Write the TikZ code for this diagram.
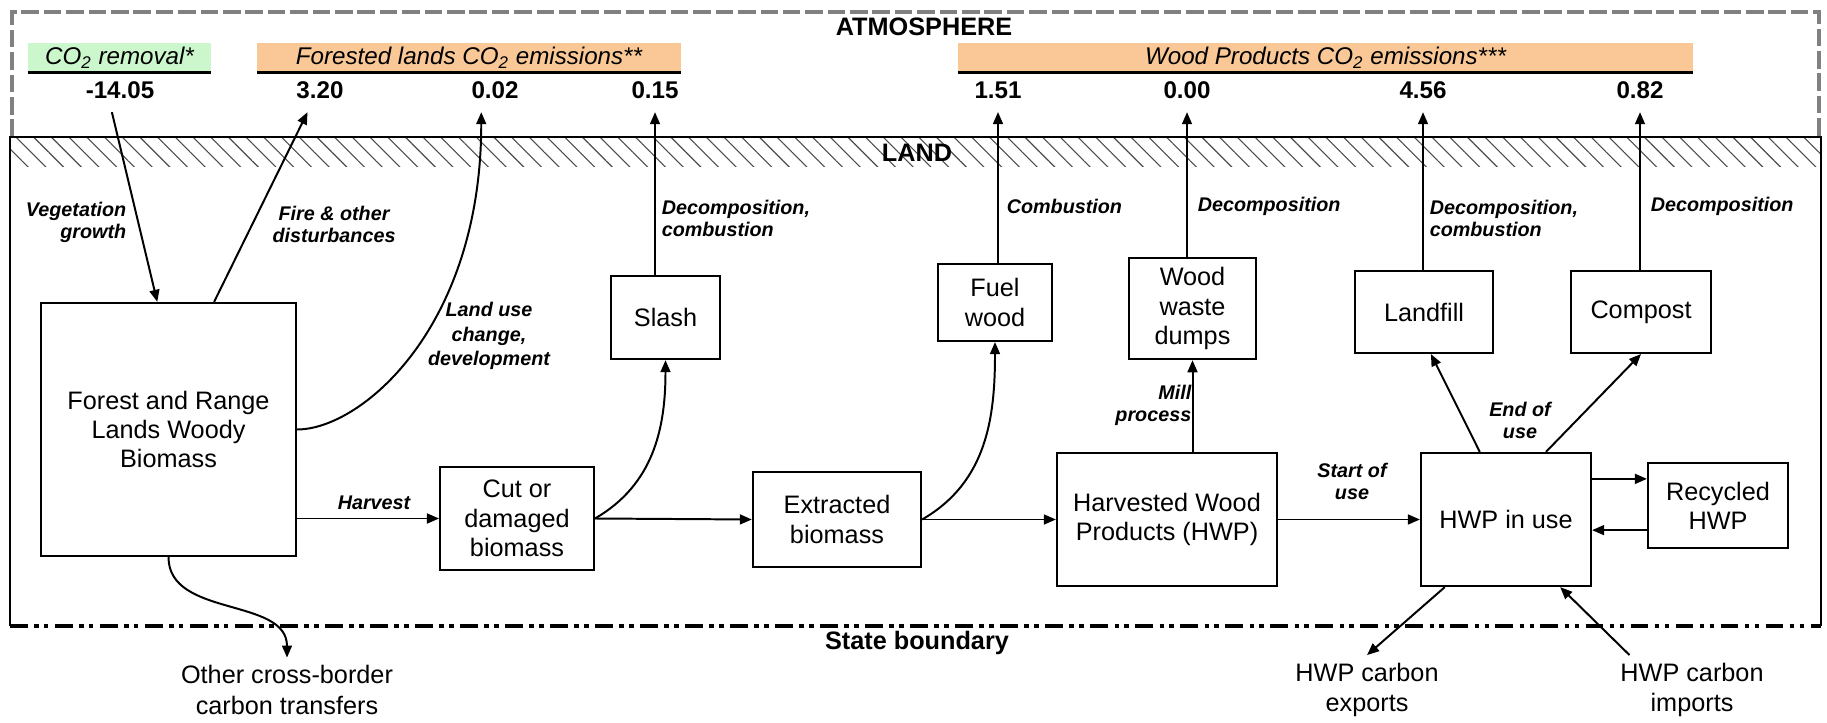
\documentclass[tikz,border=0pt]{standalone}
\usepackage{fontspec}
\setmainfont{Liberation Sans}
\usetikzlibrary{arrows.meta,patterns.meta}
\definecolor{removalgreen}{RGB}{204,247,204}
\definecolor{emisorange}{RGB}{250,200,150}

\tikzset{
  box/.style={draw, line width=1pt, align=center, font=\fontsize{11.5}{13.3}\selectfont},
  lbl/.style={font=\fontsize{9}{10}\selectfont\bfseries\itshape},
  num/.style={font=\fontsize{11}{13}\selectfont\bfseries, inner ysep=6pt},
  hdr/.style={font=\fontsize{11}{13}\selectfont\itshape, minimum height=0.464cm, inner sep=0pt},
  ext/.style={align=center, font=\fontsize{11.5}{14}\selectfont},
  heading/.style={font=\fontsize{11.5}{13}\selectfont\bfseries},
  flow/.style={-{Triangle[length=5.5pt,width=4.5pt]}, line width=0.9pt},
}

\begin{document}
\begin{tikzpicture}[x=0.016cm, y=-0.016cm]
\useasboundingbox (0,0) rectangle (1827,723);
% atmosphere, land and state boundary
\draw[gray, line width=2pt, dash pattern=on 8pt off 2.2pt] (12,137) -- (12,12) -- (1819,12) -- (1819,137);
\path[pattern={Lines[angle=-45,distance=5.7pt,line width=0.5pt]}, pattern color=black!70] (10,137) rectangle (1821,167);
\draw[line width=1pt] (10,626) -- (10,137) -- (1821,137) -- (1821,626);
\draw[line width=1.8pt, dash pattern=on 8pt off 3pt on 2pt off 2.5pt on 2pt off 3pt] (10,626) -- (1821,626);
\node[heading] (atmos) at (924,27) {ATMOSPHERE};
\node[heading] (land) at (917,153) {LAND};
\node[heading] (state) at (917,643) {State boundary};

% headers and values
\node[hdr, fill=removalgreen, minimum width=2.93cm] (hremoval) at (119.5,57.5) {CO\textsubscript{2} removal*};
\node[hdr, fill=emisorange, minimum width=6.78cm] (hforest) at (469,57.5) {Forested lands CO\textsubscript{2} emissions**};
\node[hdr, fill=emisorange, minimum width=11.76cm] (hwood) at (1325.5,57.5) {Wood Products CO\textsubscript{2} emissions***};
\foreach \h in {hremoval,hforest,hwood}
  \draw[line width=1.2pt] (\h.south west) -- (\h.south east);
\node[num] (n1405) at (120,90) {-14.05};
\node[num] (n320) at (320,90) {3.20};
\node[num] (n002) at (495,90) {0.02};
\node[num] (n015) at (655,90) {0.15};
\node[num] (n151) at (998,90) {1.51};
\node[num] (n000) at (1187,90) {0.00};
\node[num] (n456) at (1423,90) {4.56};
\node[num] (n082) at (1640,90) {0.82};

% pools
\node[box, minimum width=4.08cm, minimum height=4.05cm] (forest) at (168.5,429.5) {Forest and Range\\Lands Woody\\Biomass};
\node[box, minimum width=2.46cm, minimum height=1.65cm] (cut) at (517,518.5) {Cut or\\damaged\\biomass};
\node[box, minimum width=1.74cm, minimum height=1.33cm] (slash) at (665.5,317.5) {Slash};
\node[box, minimum width=2.69cm, minimum height=1.52cm] (extracted) at (837,519.5) {Extracted\\biomass};
\node[box, minimum width=1.82cm, minimum height=1.23cm] (fuel) at (995,302.5) {Fuel\\wood};
\node[box, minimum width=2.03cm, minimum height=1.62cm] (waste) at (1192.5,308.5) {Wood\\waste\\dumps};
\node[box, minimum width=3.52cm, minimum height=2.13cm] (hwp) at (1167,519.5) {Harvested Wood\\Products (HWP)};
\node[box, minimum width=2.21cm, minimum height=1.31cm] (landfill) at (1424,312) {Landfill};
\node[box, minimum width=2.24cm, minimum height=1.31cm] (compost) at (1641,312) {Compost};
\node[box, minimum width=2.72cm, minimum height=2.13cm] (inuse) at (1506,519.5) {HWP in use};
\node[box, minimum width=2.24cm, minimum height=1.36cm] (recycled) at (1718,505.5) {Recycled\\HWP};
\node[ext] (other) at (287,690) {Other cross-border\\carbon transfers};
\node[ext] (exports) at (1367,690) {HWP carbon\\exports};
\node[ext] (imports) at (1692,690) {HWP carbon\\imports};

% flow labels
\node[lbl, anchor=east, align=right] (veglbl) at (134,222) {Vegetation\\growth};
\node[lbl, align=center] (firelbl) at (334,224) {Fire \& other\\disturbances};
\node[lbl, align=center, font=\fontsize{9}{11}\selectfont\bfseries\itshape] (lulbl) at (489,336) {Land use\\change,\\development};
\node[lbl, anchor=west, align=left] (slashlbl) at (654,218) {Decomposition,\\combustion};
\node[lbl, anchor=west] (fuellbl) at (999,206) {Combustion};
\node[lbl, anchor=west] (wastelbl) at (1190,206) {Decomposition};
\node[lbl, anchor=west, align=left] (landfilllbl) at (1422,218) {Decomposition,\\combustion};
\node[lbl, anchor=west] (compostlbl) at (1643,206) {Decomposition};
\node[lbl, anchor=east, align=right] (milllbl) at (1199,405) {Mill\\process};
\node[lbl, align=center] (startlbl) at (1352,481) {Start of\\use};
\node[lbl, align=center] (endlbl) at (1520,420) {End of\\use};
\node[lbl] (harvestlbl) at (374,503) {Harvest};

% flows
\draw[flow] ([xshift=-0.13cm]n1405.south) -- ([xshift=-0.18cm]forest.north);
\draw[flow] ([xshift=0.73cm]forest.north) -- ([xshift=-0.2cm]n320.south);
\draw[flow] (forest.east) to[out=0,in=-90,out looseness=0.45,in looseness=1.5] ([xshift=-0.22cm]n002.south);
\draw[flow] (forest.east |- cut.west) -- (cut.west);
\draw[flow] (forest.south) to[out=-90,in=90] (other.north);
\draw[flow] (cut.east) to[out=30,in=-90] (slash.south);
\draw[flow] (n015.south |- slash.north) -- (n015.south);
\draw[flow] (cut.east) -- (extracted.west);
\draw[flow] (extracted.east) to[out=30,in=-90] (fuel.south);
\draw[flow] (n151.south |- fuel.north) -- (n151.south);
\draw[flow] (extracted.east) -- (hwp.west);
\draw[flow] (waste.south |- hwp.north) -- (waste.south);
\draw[flow] (n000.south |- waste.north) -- (n000.south);
\draw[flow] (hwp.east) -- (inuse.west);
\draw[flow] ([xshift=-0.42cm]inuse.north) -- ([xshift=0.11cm]landfill.south);
\draw[flow] ([xshift=0.64cm]inuse.north) -- (compost.south);
\draw[flow] (n456.south |- landfill.north) -- (n456.south);
\draw[flow] (n082.south |- compost.north) -- (n082.south);
\coordinate (rout) at ([yshift=0.65cm]inuse.east);
\coordinate (rback) at ([yshift=-0.17cm]inuse.east);
\draw[flow] (rout) -- (rout -| recycled.west);
\draw[flow] (rback -| recycled.west) -- (rback);
\draw[flow] ([xshift=-0.98cm]inuse.south) -- (exports.north);
\draw[flow] ([xshift=-1cm]imports.north) -- ([xshift=-0.51cm]inuse.south east);
\end{tikzpicture}
\end{document}
